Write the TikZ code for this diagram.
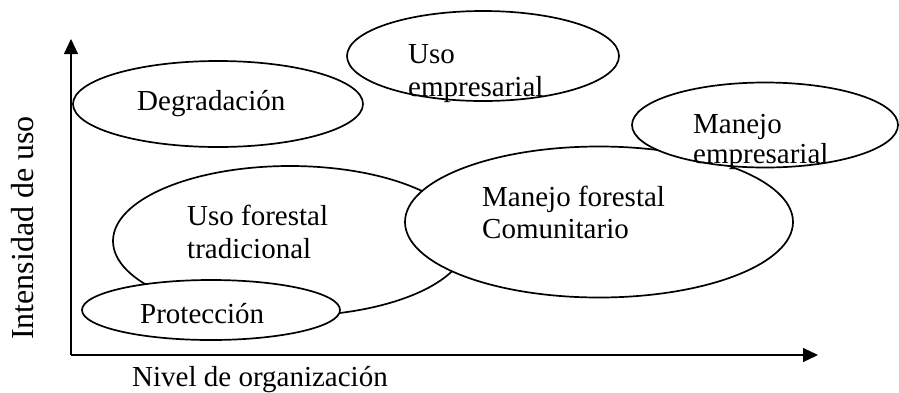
\documentclass[tikz,border=0pt]{standalone}
\usepackage{fontspec}
\setmainfont{Liberation Serif}
\usetikzlibrary{shapes.geometric,arrows.meta}
\begin{document}
\begin{tikzpicture}[x=1pt,y=-1pt,
  ell/.style={draw,ellipse,fill=white,line width=1.7pt,inner sep=0pt},
  lbl/.style={anchor=base west,inner sep=0pt,font=\fontsize{29}{33}\selectfont},
  axis/.style={line width=1.1pt,-{Triangle[length=15pt,width=14pt]}}]
\useasboundingbox (0,0) rectangle (899,392);
% axes
\coordinate (o) at (71,355);
\coordinate (ytip) at (71,39);
\coordinate (xtip) at (818,355);
\draw[axis] (o) -- (ytip);
\draw[axis] (o) -- (xtip);
% ellipses
\node[ell,minimum width=290pt,minimum height=86pt] (deg) at (218,104) {};
\node[ell,minimum width=272pt,minimum height=90pt] (ue) at (483,56) {};
\node[ell,minimum width=354pt,minimum height=150pt] (uft) at (290,241) {};
\node[ell,minimum width=388pt,minimum height=151pt] (mf) at (599,222) {};
\node[ell,minimum width=266pt,minimum height=85pt] (me) at (765,125) {};
\node[ell,minimum width=258pt,minimum height=60pt] (prot) at (211,310) {};
% labels
\node[lbl] (tdeg) at (137,110) {Degradación};
\node[lbl] (tue1) at (408,63) {Uso};
\node[lbl] (tue2) at (408,96) {empresarial};
\node[lbl] (tuft1) at (187,225) {Uso forestal};
\node[lbl] (tuft2) at (187,258) {tradicional};
\node[lbl] (tmf1) at (482,206) {Manejo forestal};
\node[lbl] (tmf2) at (482,238) {Comunitario};
\node[lbl] (tme1) at (693,133) {Manejo};
\node[lbl] (tme2) at (693,163) {empresarial};
\node[lbl] (tprot) at (140,323) {Protección};
\node[lbl] (tx) at (132,386) {Nivel de organización};
\node[lbl,anchor=base,rotate=90,font=\fontsize{32}{36}\selectfont] (ty) at (33,228) {Intensidad de uso};
\end{tikzpicture}
\end{document}
